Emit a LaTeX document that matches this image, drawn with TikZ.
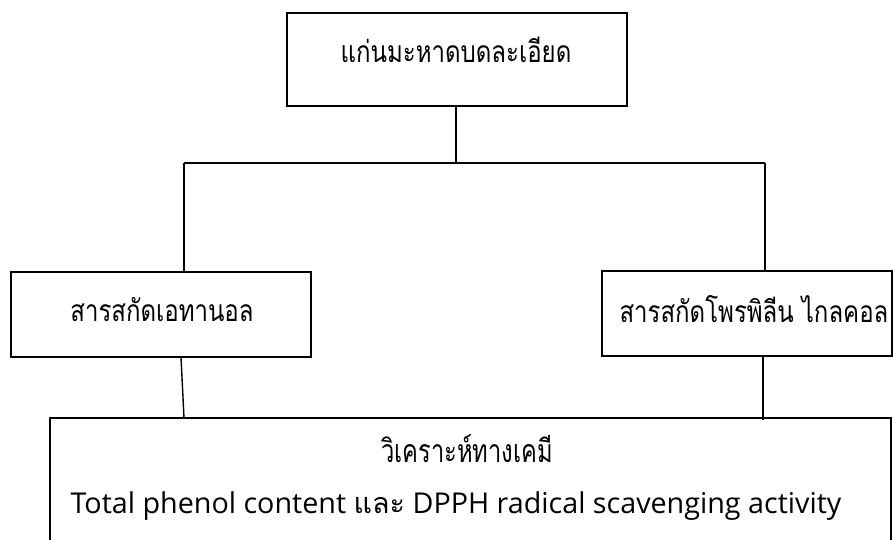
\documentclass[tikz,border=0pt]{standalone}
\usepackage{fontspec}
\newfontfamily\thaifont[Script=Thai]{Loma}
\newfontfamily\latfont{Open Sans}
\begin{document}
\begin{tikzpicture}[x=1pt,y=-1pt,
  boxstyle/.style={draw=black,line width=1.4pt},
  conn/.style={draw=black,line width=1.4pt},
  lbl/.style={inner sep=0pt,anchor=center},
  thaitxt/.style={lbl,font=\thaifont\fontsize{30}{34}\selectfont}]
\useasboundingbox (0,0) rectangle (893,540);
\fill[white] (0,0) rectangle (893,540);
% boxes
\draw[boxstyle] (287,13) rectangle (627,106);
\coordinate (topbot) at (456,106);
\draw[boxstyle] (11,272) rectangle (311,357);
\draw[boxstyle] (602,271) rectangle (892,356);
\draw[boxstyle] (50,545) -- (50,418) -- (891,418) -- (891,545);
% texts
\node[thaitxt] (t1) at (456,50) {\scalebox{0.8}[1]{แก่นมะหาดบดละเอียด}};
\node[thaitxt] (t2) at (162,310) {\scalebox{0.8}[1]{สารสกัดเอทานอล}};
\node[thaitxt] (t3) at (754,309) {\scalebox{0.8}[1]{สารสกัดโพรพิลีน ไกลคอล}};
\node[lbl,font=\thaifont\fontsize{32}{36}\selectfont] (t4) at (467,449) {\scalebox{0.74}[1]{วิเคราะห์ทางเคมี}};
\node[lbl,font=\latfont\fontsize{28.7}{32}\selectfont] (t5) at (456,506) {Total phenol content {\thaifont และ} DPPH radical scavenging activity};
% connectors
\coordinate (hl) at (184,163);
\coordinate (hm) at (456,163);
\coordinate (hr) at (765,163);
\coordinate (lt) at (184,272);
\coordinate (rt) at (765,271);
\coordinate (lb) at (181,357);
\coordinate (lb2) at (184,418);
\coordinate (rb) at (763,356);
\coordinate (rb2) at (763,420);
\draw[conn] (topbot) -- (hm);
\draw[conn] (hl) -- (hr);
\draw[conn] (hl) -- (lt);
\draw[conn] (hr) -- (rt);
\draw[conn] (lb) -- (lb2);
\draw[conn] (rb) -- (rb2);
\end{tikzpicture}
\end{document}
